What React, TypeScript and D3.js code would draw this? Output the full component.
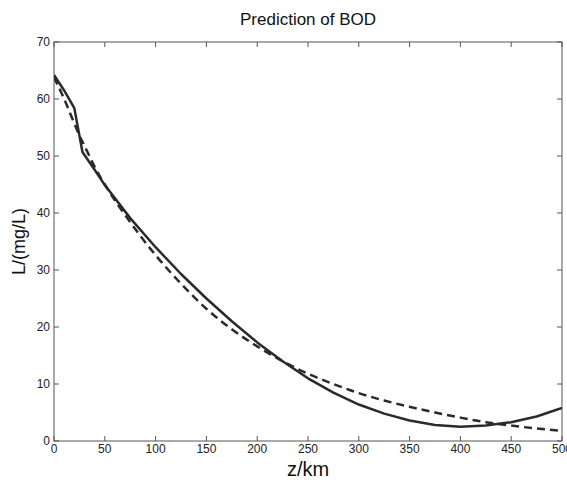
import React from "react";
import * as d3 from "d3";

// distance along river (km) and BOD (mg/L)
const solidZ = [0, 10, 20, 28, 40, 50, 75, 100, 125, 150, 175, 200, 225, 250, 275, 300, 325, 350, 375, 400, 425, 450, 475, 500];
const solidL = [64.2, 61.5, 58.4, 50.7, 47.6, 44.9, 39.1, 34.0, 29.3, 25.0, 21.0, 17.3, 14.0, 11.0, 8.5, 6.4, 4.8, 3.6, 2.8, 2.5, 2.7, 3.3, 4.3, 5.8];

const dashZ = [0, 10, 20, 25, 30, 40, 50, 75, 100, 125, 150, 175, 200, 225, 250, 275, 300, 325, 350, 375, 400, 425, 450, 475, 500];
const dashL = [63.8, 60.0, 55.7, 53.6, 51.8, 48.1, 45.0, 38.4, 32.6, 27.6, 23.2, 19.6, 16.6, 14.0, 11.8, 10.0, 8.4, 7.1, 6.0, 5.0, 4.1, 3.3, 2.7, 2.2, 1.8];

const xTicks = [0, 50, 100, 150, 200, 250, 300, 350, 400, 450, 500];
const yTicks = [0, 10, 20, 30, 40, 50, 60, 70];

const W = 567;
const H = 480;
const margin = { top: 42, right: 5, bottom: 39, left: 54 };
const font = "'Liberation Sans', Arial, Helvetica, sans-serif";

export default function App() {
  const x = d3.scaleLinear().domain([0, 500]).range([margin.left, W - margin.right]);
  const y = d3.scaleLinear().domain([0, 70]).range([H - margin.bottom, margin.top]);

  const line = d3
    .line<number>()
    .x((_, i) => x(solidZ[i]))
    .y((d) => y(d));
  const dline = d3
    .line<number>()
    .x((_, i) => x(dashZ[i]))
    .y((d) => y(d))
    .curve(d3.curveMonotoneX);

  const x0 = x(0), x1 = x(500), y0 = y(0), y1 = y(70);
  const tk = 5;
  const axisColor = "#555";

  return (
    <svg width={W} height={H} style={{ position: "absolute", left: 0, top: 0, background: "#fff" }}>
      <defs>
        <clipPath id="plot">
          <rect x={x0} y={y1} width={x1 - x0} height={y0 - y1} />
        </clipPath>
      </defs>
      <text x={308} y={25} textAnchor="middle" fontFamily={font} fontSize={17} fill="#111">
        Prediction of BOD
      </text>

      {/* ticks, inside on all four sides */}
      <g stroke={axisColor} strokeWidth={1}>
        {xTicks.map((t) => (
          <g key={"xt" + t}>
            <line x1={x(t)} x2={x(t)} y1={y0} y2={y0 - tk} />
            <line x1={x(t)} x2={x(t)} y1={y1} y2={y1 + tk} />
          </g>
        ))}
        {yTicks.map((t) => (
          <g key={"yt" + t}>
            <line x1={x0} x2={x0 + tk} y1={y(t)} y2={y(t)} />
            <line x1={x1} x2={x1 - tk} y1={y(t)} y2={y(t)} />
          </g>
        ))}
        <rect x={x0} y={y1} width={x1 - x0} height={y0 - y1} fill="none" />
      </g>

      <g fontFamily={font} fontSize={12} fill="#222">
        {xTicks.map((t) => (
          <text key={"xl" + t} x={x(t)} y={y0 + 12} textAnchor="middle">
            {t}
          </text>
        ))}
        {yTicks.map((t) => (
          <text key={"yl" + t} x={x0 - 4} y={y(t) + 4} textAnchor="end">
            {t}
          </text>
        ))}
      </g>

      <g clipPath="url(#plot)" fill="none" stroke="#2a2a2a" strokeWidth={2.5}>
        <path d={line(solidL) || ""} strokeLinejoin="round" />
        <path d={dline(dashL) || ""} strokeDasharray="8,5" />
      </g>

      <text x={308} y={476} textAnchor="middle" fontFamily={font} fontSize={20} fill="#111">
        z/km
      </text>
      <text
        transform={`translate(25, ${(y0 + y1) / 2}) rotate(-90)`}
        textAnchor="middle"
        fontFamily={font}
        fontSize={18}
        fill="#111"
      >
        L/(mg/L)
      </text>
    </svg>
  );
}
